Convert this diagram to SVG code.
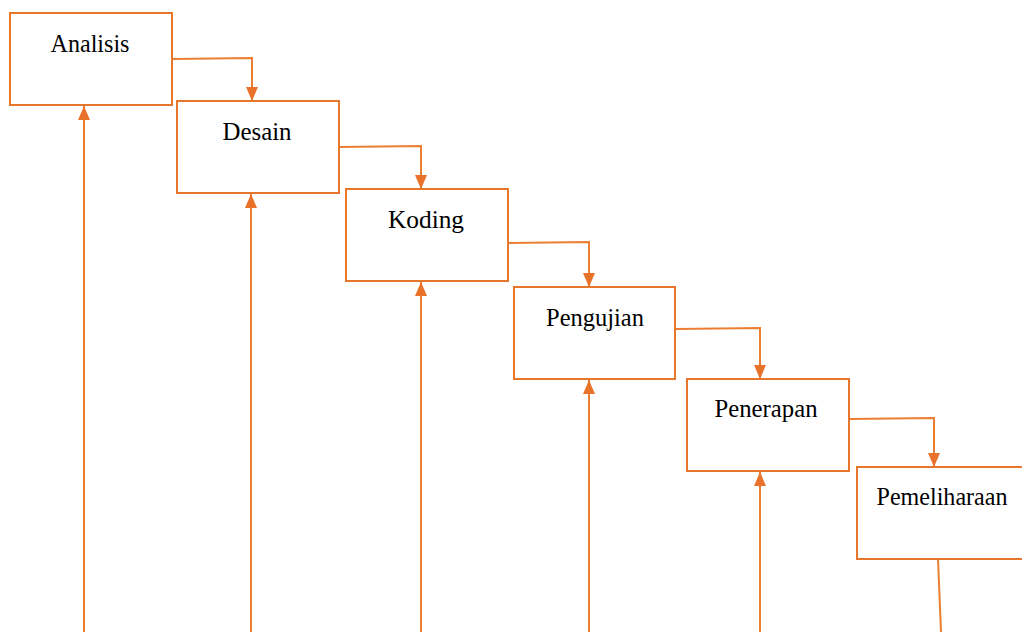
<svg xmlns="http://www.w3.org/2000/svg" width="1022" height="632" viewBox="0 0 1022 632">
<defs>
<style>
.box{fill:#fff;stroke:#E8772E;stroke-width:2}
.lbl{font-family:"Liberation Serif",serif;font-size:26px;fill:#000;text-anchor:middle}
.c{fill:none;stroke:#EC7E34;stroke-width:2}
</style>
<marker id="ah" viewBox="0 0 14 12" refX="14" refY="6" markerWidth="14" markerHeight="12" orient="auto" markerUnits="userSpaceOnUse">
<path d="M0,0 L14,6 L0,12 z" fill="#E8722A"/>
</marker>
</defs>
<rect width="1022" height="632" fill="#fff"/>
<g id="connectors">
<path class="c" d="M172,59 L252,58 L252,101" marker-end="url(#ah)"/>
<path class="c" d="M339,147 L421,146 L421,189" marker-end="url(#ah)"/>
<path class="c" d="M508,243 L589,242 L589,287" marker-end="url(#ah)"/>
<path class="c" d="M675,329 L760,328 L760,379" marker-end="url(#ah)"/>
<path class="c" d="M849,419 L934,418 L934,467" marker-end="url(#ah)"/>
<path class="c" d="M84,632 L84,106" marker-end="url(#ah)"/>
<path class="c" d="M251,632 L251,194" marker-end="url(#ah)"/>
<path class="c" d="M421,632 L421,282" marker-end="url(#ah)"/>
<path class="c" d="M589,632 L589,380" marker-end="url(#ah)"/>
<path class="c" d="M760,632 L760,472" marker-end="url(#ah)"/>
<path class="c" d="M938,559 L941,632"/>
</g>
<g id="analisis"><rect class="box" x="10" y="13" width="162" height="92"/><text class="lbl" x="90" y="52" textLength="79" lengthAdjust="spacingAndGlyphs">Analisis</text></g>
<g id="desain"><rect class="box" x="177" y="101" width="162" height="92"/><text class="lbl" x="257" y="140" textLength="69" lengthAdjust="spacingAndGlyphs">Desain</text></g>
<g id="koding"><rect class="box" x="346" y="189" width="162" height="92"/><text class="lbl" x="426" y="228" textLength="76" lengthAdjust="spacingAndGlyphs">Koding</text></g>
<g id="pengujian"><rect class="box" x="514" y="287" width="161" height="92"/><text class="lbl" x="595" y="326" textLength="98" lengthAdjust="spacingAndGlyphs">Pengujian</text></g>
<g id="penerapan"><rect class="box" x="687" y="379" width="162" height="92"/><text class="lbl" x="766" y="417" textLength="103" lengthAdjust="spacingAndGlyphs">Penerapan</text></g>
<g id="pemeliharaan"><rect class="box" x="857" y="467" width="168" height="92"/><text class="lbl" x="942" y="505" textLength="131" lengthAdjust="spacingAndGlyphs">Pemeliharaan</text></g>
</svg>
